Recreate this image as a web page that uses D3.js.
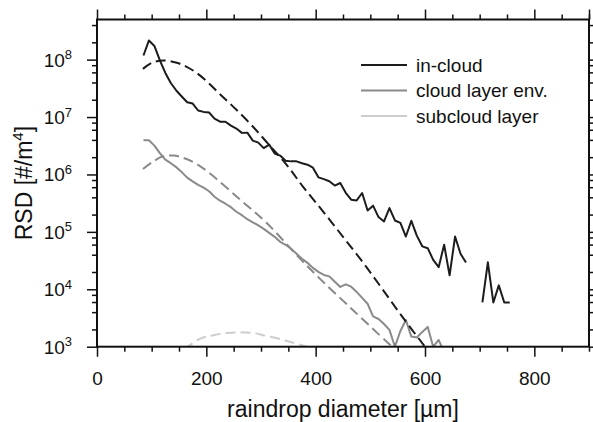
<!DOCTYPE html>
<html>
<head>
<meta charset="utf-8">
<script src="https://cdn.jsdelivr.net/npm/d3@7"></script>
<style>
  body { margin: 0; background: #fff; }
  svg { display: block; font-family: "Liberation Sans", Arial, Helvetica, sans-serif; }
</style>
</head>
<body>
<script>
// bin centres of the measured spectra (µm)
const diam = [85, 95, 105, 115, 125, 135, 145, 155, 165, 175, 185, 195, 205, 215, 225, 235,
  245, 255, 265, 275, 285, 295, 305, 315, 325, 335, 345, 355, 365, 375, 385, 395, 405, 415,
  425, 435, 445, 455, 465, 475, 485, 495, 505, 515, 525, 535, 545, 555, 565, 575, 585, 595,
  605, 615, 625, 635, 645, 655, 665, 675, 685, 695, 705, 715, 725, 735, 745, 755];

// measured RSD, in-cloud (#/m^4), null = empty bin
const inCloud = [1.18e8, 2.16e8, 1.73e8, 9.7e7, 5.86e7, 3.92e7, 2.9e7, 2.28e7, 1.81e7, 1.72e7,
  1.3e7, 1.23e7, 1.2e7, 9.4e6, 8.3e6, 8.3e6, 7.1e6, 6.3e6, 5.3e6, 5.35e6, 3.89e6, 3.59e6,
  2.88e6, 3.31e6, 2.31e6, 2.13e6, 1.74e6, 1.69e6, 1.69e6, 1.57e6, 1.48e6, 1.31e6, 8.9e5,
  8.3e5, 7.6e5, 6.4e5, 7.1e5, 4.8e5, 3.63e5, 3.53e5, 4.75e5, 2.36e5, 2.86e5, 1.81e5, 1.52e5,
  2.6e5, 1.58e5, 1.43e5, 8.3e4, 1.56e5, 8.6e4, 5.6e4, 5.2e4, 3.26e4, 2.43e4, 5.96e4, 1.75e4,
  8.3e4, 4.15e4, 2.92e4, null, null, 5.9e3, 2.95e4, 5.9e3, 1.17e4, 5.9e3, 5.9e3];

// measured RSD, cloud layer environment
const cloudEnv = [3.94e6, 3.94e6, 3.18e6, 2.35e6, 1.81e6, 1.57e6, 1.34e6, 1.1e6, 8.8e5, 7.6e5,
  6.6e5, 5.9e5, 5.1e5, 4.1e5, 3.49e5, 3.09e5, 2.69e5, 2.24e5, 1.95e5, 1.66e5, 1.47e5, 1.3e5,
  1.13e5, 9.6e4, 8.2e4, 6.7e4, 5.96e4, 5.07e4, 4.15e4, 3.4e4, 2.89e4, 2.36e4, 2.01e4, 1.78e4,
  1.68e4, 1.35e4, 1.1e4, 1.22e4, 1.11e4, 9.0e3, 7.1e3, 5.6e3, 3.37e3, 3.04e3, 2.49e3, 1.96e3,
  1.0e3, 1.88e3, 2.92e3, 1.5e3, 1.45e3, 1.81e3, 2.21e3, 1.0e3, 1.31e3, 8.0e2];

// fitted distributions (dashed)
const inCloudFitD = [84, 100, 121, 146, 164, 182, 203, 225, 249, 280, 311, 348, 377, 414, 450, 487, 523, 560, 600];
const inCloudFit = [6.9e7, 8.8e7, 9.7e7, 8.8e7, 7.5e7, 5.9e7, 4.0e7, 2.5e7, 1.52e7, 7.7e6, 3.6e6,
  1.43e6, 6.1e5, 2.24e5, 8.2e4, 2.89e4, 9.8e3, 3.17e3, 1.0e3];

const cloudEnvFitD = [84, 103, 121, 140, 158, 179, 204, 262, 310, 362, 408, 469, 530, 542];
const cloudEnvFit = [1.24e6, 1.69e6, 2.07e6, 2.13e6, 1.94e6, 1.59e6, 1.09e6, 3.63e5, 1.44e5,
  4.27e4, 1.52e4, 4.28e3, 1.22e3, 9.7e2];

const subcloudFitD = [160, 188, 213, 237, 262, 286, 310, 335, 359, 384, 400];
const subcloudFit = [9.0e2, 1.37e3, 1.58e3, 1.73e3, 1.78e3, 1.73e3, 1.54e3, 1.36e3, 1.17e3, 1.0e3, 8.8e2];

const legendLabels = ["in-cloud", "cloud layer env.", "subcloud layer"];
const colors = ["#1c1c1c", "#8a8a8a", "#cdcdcd"];

const xMajor = [0, 200, 400, 600, 800];
const yMajor = [1e3, 1e4, 1e5, 1e6, 1e7, 1e8];

const width = 593, height = 422;
const margin = { top: 19.5, right: 4, bottom: 75.3, left: 97 };

const x = d3.scaleLinear().domain([0, 900]).range([margin.left, width - margin.right]);
const y = d3.scaleLog().domain([1e3, 5e8]).range([height - margin.bottom, margin.top]);

const svg = d3.select("body").append("svg")
  .attr("width", width)
  .attr("height", height);

svg.append("clipPath").attr("id", "plot")
  .append("rect")
  .attr("x", x(0)).attr("y", y(5e8))
  .attr("width", x(900) - x(0)).attr("height", y(1e3) - y(5e8));

// minor ticks
const xMinor = d3.range(0, 901, 50).filter(v => v % 200 !== 0);
const yMinor = [];
[1e3, 1e4, 1e5, 1e6, 1e7, 1e8].forEach(p => [2, 4, 6, 8].forEach(m => {
  if (m * p <= 5e8) yMinor.push(m * p);
}));

function tidy(g) {
  g.select(".domain").remove();
  g.selectAll(".tick line").attr("stroke", "#111").attr("stroke-width", 1.5);
}

const plotBottom = y(1e3), plotTop = y(5e8), plotLeft = x(0), plotRight = x(900);

// bottom axis with labels
svg.append("g")
  .attr("transform", "translate(0," + plotBottom + ")")
  .call(d3.axisBottom(x).tickValues(xMajor).tickSize(10).tickSizeOuter(0))
  .call(tidy)
  .call(g => g.selectAll("text")
    .attr("y", 38).attr("dy", null)
    .attr("font-size", 19).attr("fill", "#111")
    .attr("font-family", "Liberation Sans, Arial, sans-serif"));
svg.append("g")
  .attr("transform", "translate(0," + plotBottom + ")")
  .call(d3.axisBottom(x).tickValues(xMinor).tickSize(5).tickSizeOuter(0).tickFormat(""))
  .call(tidy);

// top axis, ticks only
svg.append("g")
  .attr("transform", "translate(0," + plotTop + ")")
  .call(d3.axisTop(x).tickValues(xMajor.concat([900])).tickSize(10).tickSizeOuter(0).tickFormat(""))
  .call(tidy);
svg.append("g")
  .attr("transform", "translate(0," + plotTop + ")")
  .call(d3.axisTop(x).tickValues(xMinor).tickSize(5).tickSizeOuter(0).tickFormat(""))
  .call(tidy);

// left and right axes
svg.append("g")
  .attr("transform", "translate(" + plotLeft + ",0)")
  .call(d3.axisLeft(y).tickValues(yMajor).tickSize(10).tickSizeOuter(0).tickFormat(""))
  .call(tidy);
svg.append("g")
  .attr("transform", "translate(" + plotLeft + ",0)")
  .call(d3.axisLeft(y).tickValues(yMinor).tickSize(5).tickSizeOuter(0).tickFormat(""))
  .call(tidy);
svg.append("g")
  .attr("transform", "translate(" + plotRight + ",0)")
  .call(d3.axisRight(y).tickValues(yMajor).tickSize(10).tickSizeOuter(0).tickFormat(""))
  .call(tidy);
svg.append("g")
  .attr("transform", "translate(" + plotRight + ",0)")
  .call(d3.axisRight(y).tickValues(yMinor).tickSize(5).tickSizeOuter(0).tickFormat(""))
  .call(tidy);

// y tick labels as 10^n
const yLab = svg.append("g")
  .selectAll("text")
  .data(yMajor)
  .enter()
  .append("text")
  .attr("x", plotLeft - 25)
  .attr("y", d => y(d) + 7)
  .attr("text-anchor", "end")
  .attr("font-size", 19)
  .attr("fill", "#111");
yLab.append("tspan").text("10");
yLab.append("tspan")
  .attr("dy", -7.5)
  .attr("font-size", 13)
  .text(d => Math.round(Math.log10(d)));

// data lines
const line = d3.line()
  .defined(d => d[1] != null)
  .x(d => x(d[0]))
  .y(d => y(d[1]));

const fitLine = d3.line()
  .x(d => x(d[0]))
  .y(d => y(d[1]))
  .curve(d3.curveCatmullRom);

const lines = svg.append("g").attr("clip-path", "url(#plot)");

lines.append("path")
  .datum(subcloudFitD.map((d, i) => [d, subcloudFit[i]]))
  .attr("d", fitLine)
  .attr("fill", "none")
  .attr("stroke", colors[2])
  .attr("stroke-width", 2)
  .attr("stroke-dasharray", "10,5");

lines.append("path")
  .datum(cloudEnvFitD.map((d, i) => [d, cloudEnvFit[i]]))
  .attr("d", fitLine)
  .attr("fill", "none")
  .attr("stroke", colors[1])
  .attr("stroke-width", 2)
  .attr("stroke-dasharray", "10,5");

lines.append("path")
  .datum(diam.slice(0, cloudEnv.length).map((d, i) => [d, cloudEnv[i]]))
  .attr("d", line)
  .attr("fill", "none")
  .attr("stroke", colors[1])
  .attr("stroke-width", 2)
  .attr("stroke-linejoin", "round");

lines.append("path")
  .datum(inCloudFitD.map((d, i) => [d, inCloudFit[i]]))
  .attr("d", fitLine)
  .attr("fill", "none")
  .attr("stroke", colors[0])
  .attr("stroke-width", 2)
  .attr("stroke-dasharray", "10,5");

lines.append("path")
  .datum(diam.map((d, i) => [d, inCloud[i]]))
  .attr("d", line)
  .attr("fill", "none")
  .attr("stroke", colors[0])
  .attr("stroke-width", 2)
  .attr("stroke-linejoin", "round");

// frame
svg.append("rect")
  .attr("x", plotLeft).attr("y", plotTop)
  .attr("width", plotRight - plotLeft).attr("height", plotBottom - plotTop)
  .attr("fill", "none")
  .attr("stroke", "#111")
  .attr("stroke-width", 2);

// legend
const leg = svg.append("g")
  .selectAll("g")
  .data(legendLabels)
  .enter()
  .append("g")
  .attr("transform", (d, i) => "translate(361," + (65 + i * 25.5) + ")");
leg.append("line")
  .attr("x1", 0).attr("x2", 46)
  .attr("stroke", (d, i) => colors[i])
  .attr("stroke-width", 2);
leg.append("text")
  .attr("x", 55).attr("y", 6.7)
  .attr("font-size", 19)
  .attr("fill", "#111")
  .text(d => d);

// axis titles
svg.append("text")
  .attr("x", (plotLeft + plotRight) / 2)
  .attr("y", 416.5)
  .attr("text-anchor", "middle")
  .attr("font-size", 23)
  .attr("fill", "#111")
  .text("raindrop diameter [µm]");

const yt = svg.append("text")
  .attr("transform", "translate(32," + ((plotTop + plotBottom) / 2) + ") rotate(-90)")
  .attr("text-anchor", "middle")
  .attr("font-size", 23)
  .attr("fill", "#111");
yt.append("tspan").text("RSD [#/m");
yt.append("tspan").attr("dy", -9).attr("font-size", 15).text("4");
yt.append("tspan").attr("dy", 9).text("]");
</script>
</body>
</html>
